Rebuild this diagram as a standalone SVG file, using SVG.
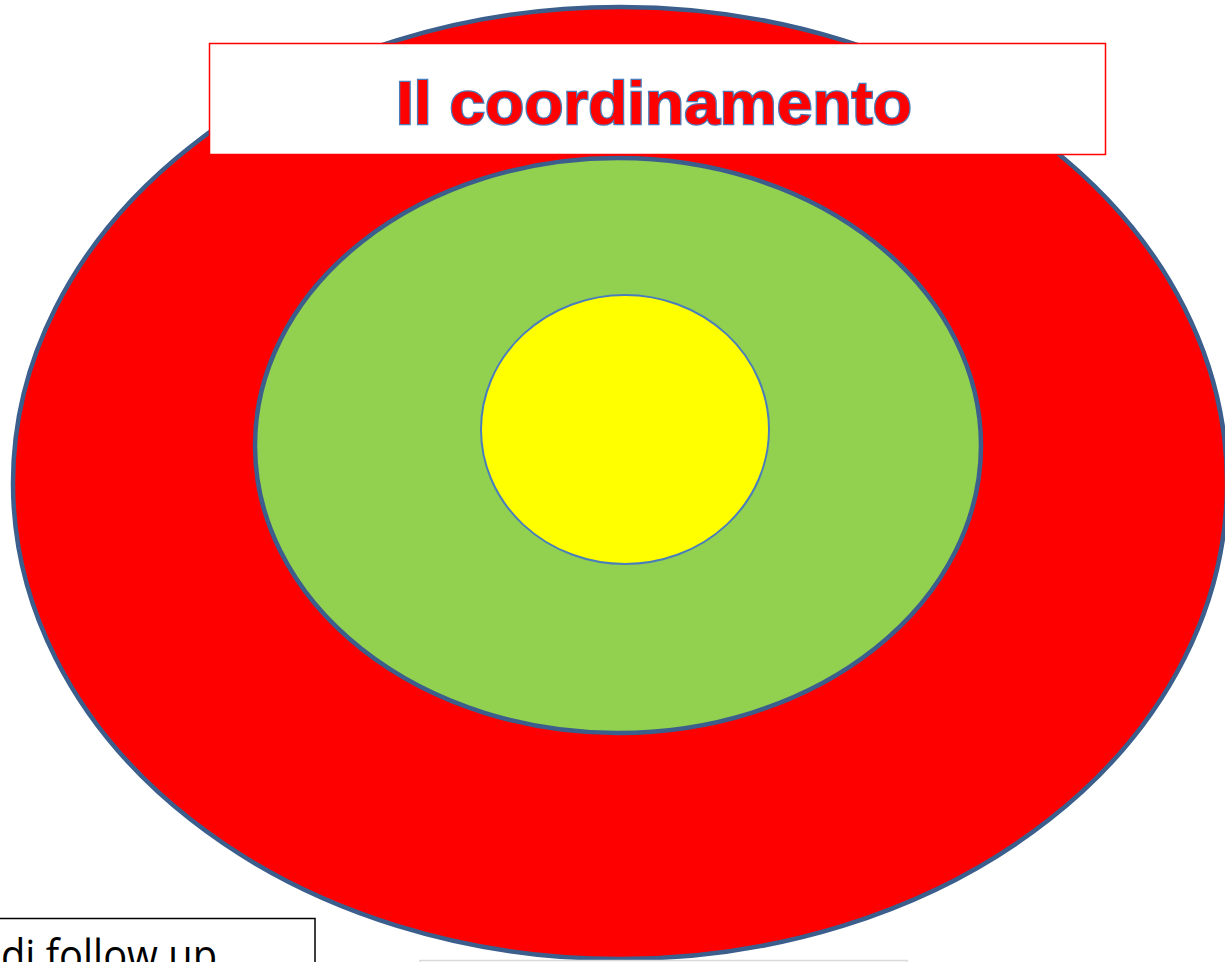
<svg xmlns="http://www.w3.org/2000/svg" width="1225" height="962" viewBox="0 0 1225 962">
<style>
.ring{stroke:#3B5E8C;stroke-width:4.5}
.title{font-family:"Liberation Sans",Arial,sans-serif;font-weight:bold;font-size:61px;fill:#FF0000;stroke:#4A7EBB;stroke-width:2.5;paint-order:stroke}
.note{font-family:"Open Sans","Liberation Sans",sans-serif;font-size:44px;fill:#000}
</style>
<rect width="1225" height="962" fill="#fff"/>
<g id="outer"><ellipse class="ring" cx="620" cy="483" rx="607" ry="476" fill="#FF0000"/></g>
<g id="middle"><ellipse class="ring" cx="618" cy="445.5" rx="363" ry="287.5" fill="#92D050"/></g>
<g id="inner"><ellipse cx="625" cy="429.5" rx="144" ry="134.5" fill="#FFFF00" stroke="#4A7EBB" stroke-width="2"/></g>
<g id="title">
<rect x="209.5" y="43.5" width="896" height="111" fill="#fff" stroke="#FF0000" stroke-width="1.5"/>
<text class="title" x="396" y="124" textLength="516" lengthAdjust="spacingAndGlyphs">Il coordinamento</text>
</g>
<g id="followup">
<rect x="-2" y="918.5" width="317" height="60" fill="#fff" stroke="#000" stroke-width="1.5"/>
<text class="note" x="1" y="971" textLength="216" lengthAdjust="spacingAndGlyphs">di follow up</text>
</g>
<g id="bottombox">
<rect x="420" y="960.5" width="487" height="20" fill="#fff" stroke="#D9D9D9" stroke-width="1.5"/>
</g>
<g id="connectors"></g>
</svg>
